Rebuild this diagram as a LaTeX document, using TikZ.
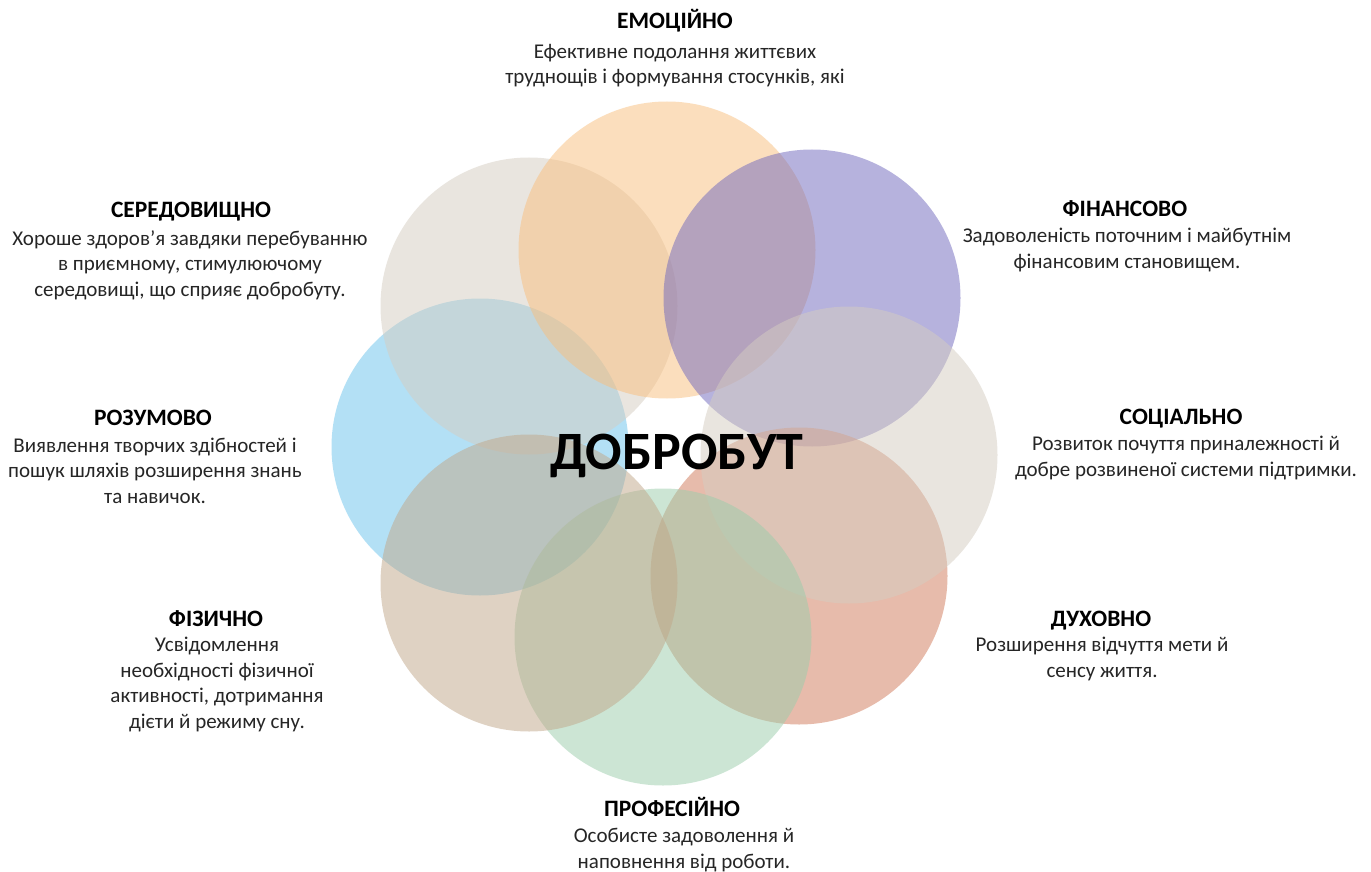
\documentclass[tikz,border=0pt]{standalone}
\usepackage{fontspec}
\setmainfont{Carlito}

\definecolor{cEnv}{RGB}{213,205,193}
\definecolor{cEmo}{RGB}{249,191,125}
\definecolor{cFin}{RGB}{111,103,189}
\definecolor{cSoc}{RGB}{213,205,193}
\definecolor{cSpi}{RGB}{209,121,89}
\definecolor{cPro}{RGB}{155,205,171}
\definecolor{cPhy}{RGB}{193,167,137}
\definecolor{cMen}{RGB}{105,195,237}

\tikzset{
  ring/.style={fill=#1, fill opacity=0.5},
  ttl/.style={font=\fontsize{23.5}{28}\selectfont\bfseries, anchor=base, inner sep=0pt},
  txt/.style={font=\fontsize{21}{25.5}\selectfont, text=black!85, align=center, anchor=base, inner sep=0pt},
}

\begin{document}
\begin{tikzpicture}[x=1pt,y=-1pt]
			%%%%% FRAME %%%%%
			\fill[white] (0,0) rectangle (1371,872);
			\useasboundingbox (0,0) rectangle (1371,872);
			
			%%%%% CIRCLES %%%%%
			\foreach \cx/\cy/\col in {480/447/cMen, 529/306/cEnv, 667/250/cEmo, 812/298/cFin,
				799/576/cSpi, 849/455/cSoc, 663/637/cPro, 529/583/cPhy}
				\fill[ring=\col] (\cx,\cy) circle (148.5pt);
			
			\node[font=\fontsize{54}{62}\selectfont\bfseries, anchor=base, inner sep=0pt] (well) at (677,469) {ДОБРОБУТ};
			
			%%%%% LABELS (body nodes sit on their last line) %%%%%
			\node[ttl] (emo-t) at (675,29) {ЕМОЦІЙНО};
			\node[txt] (emo-b) at (675,84) {Ефективне подолання життєвих\\труднощів і формування стосунків, які};
			
			\node[ttl] (env-t) at (191,217) {СЕРЕДОВИЩНО};
			\node[txt] (env-b) at (190,296) {Хороше здоров’я завдяки перебуванню\\в приємному, стимулюючому\\середовищі, що сприяє добробуту.};
			
			\node[ttl] (fin-t) at (1125,216) {ФІНАНСОВО};
			\node[txt] (fin-b) at (1127,268) {Задоволеність поточним і майбутнім\\фінансовим становищем.};
			
			\node[ttl] (men-t) at (153,425) {РОЗУМОВО};
			\node[txt] (men-b) at (155,503) {Виявлення творчих здібностей і\\пошук шляхів розширення знань\\та навичок.};
			
			\node[ttl] (soc-t) at (1181,424) {СОЦІАЛЬНО};
			\node[txt] (soc-b) at (1186,476) {Розвиток почуття приналежності й\\добре розвиненої системи підтримки.};
			
			\node[ttl] (phy-t) at (216,626) {ФІЗИЧНО};
			\node[txt] (phy-b) at (217,728) {Усвідомлення\\необхідності фізичної\\активності, дотримання\\дієти й режиму сну.};
			
			\node[ttl] (spi-t) at (1101,626) {ДУХОВНО};
			\node[txt] (spi-b) at (1102,677) {Розширення відчуття мети й\\сенсу життя.};
			
			\node[ttl] (pro-t) at (672,816) {ПРОФЕСІЙНО};
			\node[txt] (pro-b) at (684,868) {Особисте задоволення й\\наповнення від роботи.};
			
			%%%%% END %%%%%
\end{tikzpicture}
\end{document}
